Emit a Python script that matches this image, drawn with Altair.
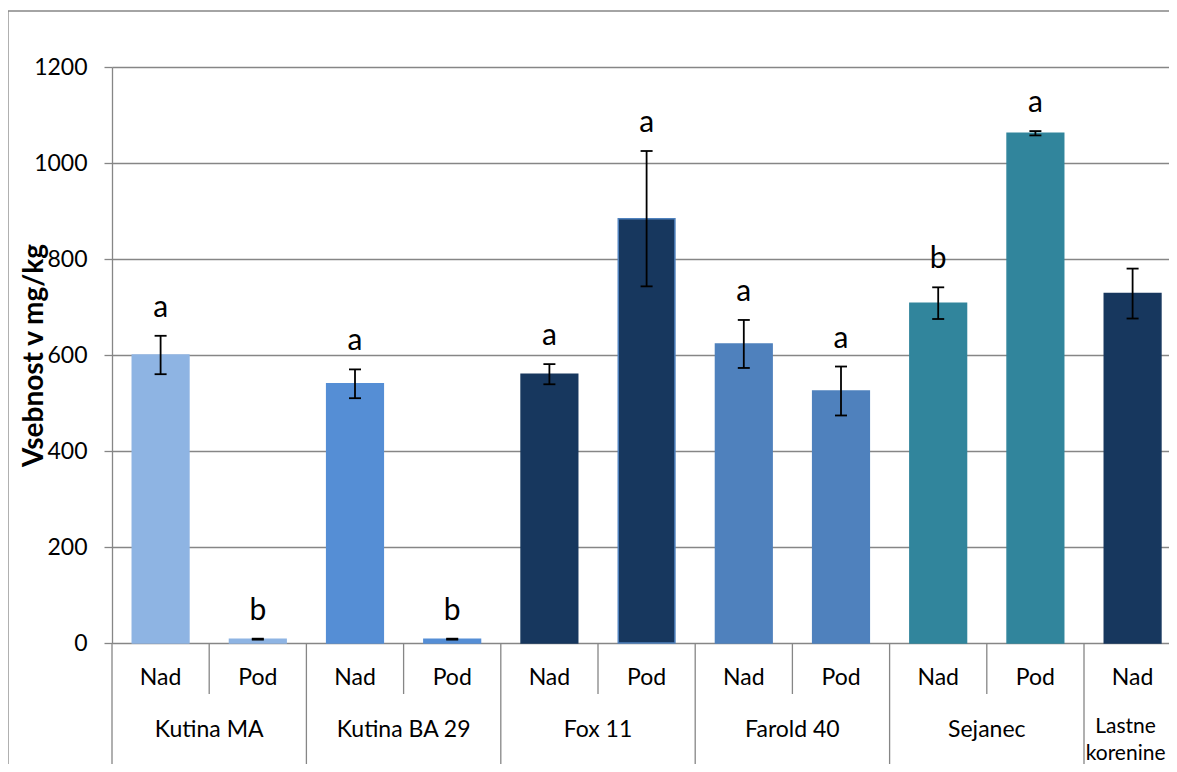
import altair as alt
import pandas as pd

# ---- data ----
group_names = ["Kutina MA", "Kutina BA 29", "Fox 11", "Farold 40", "Sejanec", "Lastne korenine"]
group_sizes = [2, 2, 2, 2, 2, 1]
group_label_lines = [["Kutina MA"], ["Kutina BA 29"], ["Fox 11"], ["Farold 40"], ["Sejanec"], ["Lastne", "korenine"]]
sub_labels = ["Nad", "Pod", "Nad", "Pod", "Nad", "Pod", "Nad", "Pod", "Nad", "Pod", "Nad"]
values = [600, 8, 540, 8, 560, 884, 623, 525, 708, 1062, 728]
errors = [40, 1, 30, 1, 21, 141, 50, 51, 33, 4.5, 52]
letters = ["a", "b", "a", "b", "a", "a", "a", "a", "b", "a", ""]
group_colors = ["#8EB4E3", "#558ED5", "#17375E", "#4F81BD", "#31859C", "#17375E"]
y_ticks = [0, 200, 400, 600, 800, 1000, 1200]

GRAY = "#868686"
FONT = "Lato"

# ---- tables built from the arrays ----
rows = []
slot = 0
for name, n, col in zip(group_names, group_sizes, group_colors):
    for k in range(n):
        rows.append({"slot": slot, "group": name, "color": col})
        slot += 1
df = pd.DataFrame(rows)
df["sub"] = sub_labels
df["value"] = values
df["err"] = errors
df["letter"] = letters
df["x0"] = df["slot"] + 0.2085
df["x1"] = df["slot"] + 0.7915
df["c"] = df["slot"] + 0.5
df["lo"] = df["value"] - df["err"]
df["hi"] = df["value"] + df["err"]
df["stroke"] = df["color"]
df.loc[(df["group"] == "Fox 11") & (df["sub"] == "Pod"), "stroke"] = "#4F81BD"

starts = [sum(group_sizes[:i]) for i in range(len(group_sizes))]
gdf = pd.DataFrame({
    "lines": group_label_lines,
    "gc": [s + n / 2 for s, n in zip(starts, group_sizes)],
    "single": [n > 1 for n in group_sizes],
})
group_bounds = pd.DataFrame({"b": starts + [sum(group_sizes)]})
sub_bounds = pd.DataFrame({"b": [s + 1 for s, n in zip(starts, group_sizes) if n > 1]})

# the reference is cropped on the right: only part of the last slot's margin is visible
PLOT_W = 1057
SLOT_PX = 97.2
xs = alt.Scale(domain=[0, PLOT_W / SLOT_PX], nice=False, zero=False)
ys = alt.Scale(domain=[0, 1200], nice=False)

base = alt.Chart(df)

bars = base.mark_bar(strokeWidth=1.5).encode(
    x=alt.X("x0:Q", scale=xs, axis=None),
    x2="x1:Q",
    y=alt.Y("value:Q", scale=ys, title="Vsebnost v mg/kg",
            axis=alt.Axis(values=y_ticks, grid=True, format="d")),
    y2=alt.datum(0),
    fill=alt.Color("color:N", scale=None),
    stroke=alt.Color("stroke:N", scale=None),
)

err_v = base.mark_rule(color="black", strokeWidth=1.8).encode(
    x=alt.X("c:Q", scale=xs), y=alt.Y("lo:Q", scale=ys), y2="hi:Q"
)
cap_hi = base.mark_rule(color="black", strokeWidth=1.8, xOffset=-6, x2Offset=6).encode(
    x=alt.X("c:Q", scale=xs), x2="c:Q", y=alt.Y("hi:Q", scale=ys)
)
cap_lo = base.mark_rule(color="black", strokeWidth=1.8, xOffset=-6, x2Offset=6).encode(
    x=alt.X("c:Q", scale=xs), x2="c:Q", y=alt.Y("lo:Q", scale=ys)
)

letter_text = base.mark_text(font=FONT, fontSize=30, color="black", baseline="alphabetic", dy=-19).encode(
    x=alt.X("c:Q", scale=xs), y=alt.Y("hi:Q", scale=ys), text="letter:N"
)

sub_text = base.mark_text(font=FONT, fontSize=23, color="black", baseline="alphabetic").encode(
    x=alt.X("c:Q", scale=xs), y=alt.value(618), text="sub:N"
)

group_text = alt.Chart(gdf).transform_filter("datum.single").mark_text(
    font=FONT, fontSize=23, color="black", baseline="top", lineHeight=32
).encode(x=alt.X("gc:Q", scale=xs), y=alt.value(652), text="lines")

# the two-line label of the last (cropped) group, kept inside the visible area
group_text_last = alt.Chart(gdf).transform_filter("!datum.single").mark_text(
    font=FONT, fontSize=21, color="black", baseline="top", lineHeight=27, dx=-7
).encode(x=alt.X("gc:Q", scale=xs), y=alt.value(649), text="lines")

sub_sep = alt.Chart(sub_bounds).mark_rule(color=GRAY, strokeWidth=1.3).encode(
    x=alt.X("b:Q", scale=xs), y=alt.value(576), y2=alt.value(627)
)
group_sep = alt.Chart(group_bounds).mark_rule(color=GRAY, strokeWidth=1.3).encode(
    x=alt.X("b:Q", scale=xs), y=alt.value(576), y2=alt.value(800)
)

frame = alt.Chart(pd.DataFrame({"f": [0]})).mark_rect(
    fillOpacity=0, stroke=GRAY, strokeWidth=1.3
).encode(x=alt.value(-104), x2=alt.value(1300), y=alt.value(-56), y2=alt.value(900))

chart = alt.layer(
    frame, bars, err_v, cap_hi, cap_lo, letter_text, sub_text,
    group_text, group_text_last, sub_sep, group_sep
).properties(
    width=PLOT_W,
    height=576,
    background="white",
    autosize=alt.AutoSizeParams(type="none"),
    padding={"left": 104, "top": 59, "right": 0, "bottom": 121},
).configure_view(
    stroke=None
).configure_axisY(
    labelFont=FONT, labelFontSize=23, labelColor="black", labelPadding=17,
    tickSize=8, tickColor=GRAY, tickWidth=1.3,
    domainColor=GRAY, domainWidth=1.3,
    gridColor=GRAY, gridWidth=1.3, gridOpacity=1,
    titleFont=FONT, titleFontSize=28, titleFontWeight="bold", titleColor="black",
    titleAngle=270, titleX=-70, titleY=288, titleBaseline="alphabetic", titleAlign="center",
)

chart.save("out.html", embed_options={"renderer": "svg", "actions": False})
